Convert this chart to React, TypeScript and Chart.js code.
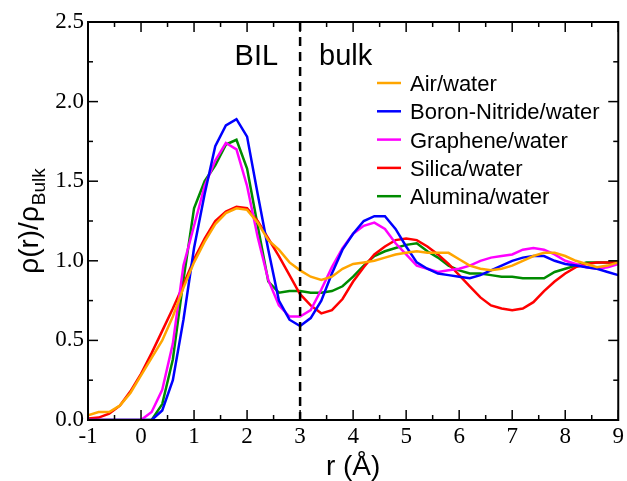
import React, { useEffect, useRef } from 'react';
import { Chart, registerables } from 'chart.js';

Chart.register(...registerables);

// r positions (Å)
const rValues = [
  -1, -0.8, -0.6, -0.4, -0.2, 0, 0.2, 0.4, 0.6, 0.8,
  1.0, 1.2, 1.4, 1.6, 1.8, 2.0, 2.2, 2.4, 2.6, 2.8,
  3.0, 3.2, 3.4, 3.6, 3.8, 4.0, 4.2, 4.4, 4.6, 4.8,
  5.0, 5.2, 5.4, 5.6, 5.8, 6.0, 6.2, 6.4, 6.6, 6.8,
  7.0, 7.2, 7.4, 7.6, 7.8, 8.0, 8.2, 8.4, 8.6, 8.8, 9.0,
];

const airWater = [
  0.03, 0.05, 0.05, 0.09, 0.17, 0.28, 0.39, 0.50, 0.65, 0.83,
  0.99, 1.12, 1.23, 1.30, 1.33, 1.32, 1.24, 1.13, 1.07, 0.99,
  0.94, 0.90, 0.88, 0.90, 0.95, 0.98, 0.99, 1.00, 1.02, 1.04,
  1.05, 1.06, 1.05, 1.05, 1.05, 1.01, 0.97, 0.95, 0.94, 0.95,
  0.97, 1.00, 1.03, 1.05, 1.05, 1.03, 1.00, 0.98, 0.96, 0.97, 0.99,
];

const boronNitrideWater = [
  0, 0, 0, 0, 0, 0, 0, 0.06, 0.25, 0.63,
  1.08, 1.42, 1.72, 1.85, 1.89, 1.78, 1.42, 1.07, 0.75, 0.63,
  0.59, 0.64, 0.75, 0.92, 1.07, 1.17, 1.25, 1.28, 1.28, 1.20,
  1.09, 0.99, 0.95, 0.92, 0.91, 0.90, 0.89, 0.91, 0.94, 0.97,
  1.00, 1.02, 1.03, 1.03, 1.00, 0.98, 0.97, 0.96, 0.95, 0.93, 0.91,
];

const grapheneWater = [
  0, 0, 0, 0, 0, 0, 0.05, 0.19, 0.48, 0.97,
  1.22, 1.47, 1.63, 1.74, 1.70, 1.47, 1.15, 0.88, 0.72, 0.65,
  0.65, 0.69, 0.82, 0.96, 1.08, 1.17, 1.22, 1.24, 1.20, 1.11,
  1.04, 0.97, 0.95, 0.93, 0.94, 0.95, 0.97, 1.00, 1.02, 1.03,
  1.04, 1.07, 1.08, 1.07, 1.04, 1.00, 0.98, 0.96, 0.95, 0.96, 0.98,
];

const silicaWater = [
  0.01, 0.015, 0.04, 0.09, 0.18, 0.29, 0.42, 0.56, 0.70, 0.85,
  1.01, 1.14, 1.25, 1.31, 1.34, 1.33, 1.25, 1.14, 1.03, 0.91,
  0.79, 0.72, 0.67, 0.69, 0.76, 0.87, 0.96, 1.04, 1.09, 1.13,
  1.14, 1.13, 1.09, 1.04, 0.98, 0.91, 0.84, 0.77, 0.72, 0.70,
  0.69, 0.70, 0.74, 0.81, 0.87, 0.92, 0.96, 0.98, 0.99, 0.99, 0.99,
];

const aluminaWater = [
  0, 0, 0, 0, 0, 0, 0, 0.10, 0.38, 0.88,
  1.33, 1.50, 1.60, 1.73, 1.76, 1.58, 1.22, 0.87, 0.80, 0.81,
  0.81, 0.80, 0.80, 0.81, 0.84, 0.90, 0.97, 1.03, 1.06, 1.08,
  1.10, 1.11, 1.06, 1.02, 0.97, 0.94, 0.92, 0.92, 0.91, 0.90,
  0.90, 0.89, 0.89, 0.89, 0.93, 0.95, 0.97, 0.99, 0.99, 0.99, 0.99,
];

const seriesLabels = ['Air/water', 'Boron-Nitride/water', 'Graphene/water', 'Silica/water', 'Alumina/water'];
const seriesValues = [airWater, boronNitrideWater, grapheneWater, silicaWater, aluminaWater];
const seriesColors = ['#FFA500', '#0000FF', '#FF00FF', '#FF0000', '#008B00'];

const boundaryR = 3;
const regionLabels = ['BIL', 'bulk'];
const xTitle = 'r (Å)';
const yTitleMain = 'ρ(r)/ρ';
const yTitleSub = 'Bulk';

const SANS = '"Liberation Sans", Arial, sans-serif';
const SERIF = '"Liberation Serif", "Times New Roman", serif';

const decorPlugin = {
  id: 'decor',
  afterDatasetsDraw(chart: any) {
    const { ctx, chartArea: a, scales } = chart;
    const x = scales.x;
    const y = scales.y;
    ctx.save();
    ctx.strokeStyle = '#000';
    ctx.fillStyle = '#000';

    // dashed boundary
    const xb = x.getPixelForValue(boundaryR);
    ctx.lineWidth = 2.5;
    ctx.setLineDash([9, 6]);
    ctx.beginPath();
    ctx.moveTo(xb, a.top);
    ctx.lineTo(xb, a.bottom);
    ctx.stroke();
    ctx.setLineDash([]);

    // frame
    ctx.lineWidth = 2;
    ctx.strokeRect(a.left, a.top, a.right - a.left, a.bottom - a.top);

    // inward ticks
    ctx.lineWidth = 1.5;
    const seg = (x1: number, y1: number, x2: number, y2: number) => {
      ctx.beginPath();
      ctx.moveTo(x1, y1);
      ctx.lineTo(x2, y2);
      ctx.stroke();
    };
    for (let i = 0; i <= 20; i++) {
      const v = x.min + i * 0.5;
      const len = i % 2 === 0 ? 10 : 5;
      const px = x.getPixelForValue(v);
      seg(px, a.bottom, px, a.bottom - len);
      seg(px, a.top, px, a.top + len);
    }
    for (let i = 0; i <= 10; i++) {
      const v = y.min + i * 0.25;
      const len = i % 2 === 0 ? 10 : 5;
      const py = y.getPixelForValue(v);
      seg(a.left, py, a.left + len, py);
      seg(a.right, py, a.right - len, py);
    }

    // region labels
    ctx.font = '29px ' + SANS;
    ctx.textBaseline = 'alphabetic';
    ctx.textAlign = 'right';
    ctx.fillText(regionLabels[0], xb - 22, 65);
    ctx.textAlign = 'left';
    ctx.fillText(regionLabels[1], xb + 19, 65);

    // legend
    ctx.font = '22px ' + SANS;
    chart.data.datasets.forEach((ds: any, i: number) => {
      const ly = 83 + i * 28.3;
      ctx.strokeStyle = ds.borderColor;
      ctx.lineWidth = 2.5;
      seg(377, ly, 401, ly);
      ctx.fillStyle = '#000';
      ctx.textAlign = 'left';
      ctx.fillText(ds.label, 410, ly + 8);
    });

    // x title
    ctx.fillStyle = '#000';
    ctx.font = '28px ' + SANS;
    ctx.textAlign = 'center';
    ctx.fillText(xTitle, (a.left + a.right) / 2, 475);

    // y title with subscript
    ctx.font = '28px ' + SANS;
    const wMain = ctx.measureText(yTitleMain).width;
    ctx.font = '19px ' + SANS;
    const wSub = ctx.measureText(yTitleSub).width;
    const total = wMain + 1 + wSub;
    const cy = (a.top + a.bottom) / 2;
    ctx.translate(38, cy + total / 2);
    ctx.rotate(-Math.PI / 2);
    ctx.textAlign = 'left';
    ctx.font = '28px ' + SANS;
    ctx.fillText(yTitleMain, 0, 0);
    ctx.font = '19px ' + SANS;
    ctx.fillText(yTitleSub, wMain + 1, 7);

    ctx.restore();
  },
};

export default function App() {
  const canvasRef = useRef<HTMLCanvasElement | null>(null);

  useEffect(() => {
    if (!canvasRef.current) return;
    const chart = new Chart(canvasRef.current, {
      type: 'line',
      data: {
        datasets: seriesLabels.map((label, i) => ({
          label,
          data: rValues.map((r, j) => ({ x: r, y: seriesValues[i][j] })),
          borderColor: seriesColors[i],
          backgroundColor: seriesColors[i],
          borderWidth: 2.5,
          pointRadius: 0,
          tension: 0,
          fill: false,
        })),
      },
      options: {
        responsive: false,
        animation: false,
        devicePixelRatio: 1,
        layout: { padding: { top: 22, right: 5, left: 0, bottom: 0 } },
        plugins: {
          legend: { display: false },
          tooltip: { enabled: false },
        },
        scales: {
          x: {
            type: 'linear',
            min: -1,
            max: 9,
            grid: { display: false, drawTicks: false, tickLength: 0 },
            border: { display: false },
            ticks: {
              stepSize: 1,
              autoSkip: false,
              maxRotation: 0,
              padding: 3,
              color: '#000',
              font: { family: SERIF, size: 23 },
            },
            afterFit: (s: any) => {
              s.height = 61;
            },
          },
          y: {
            type: 'linear',
            min: 0,
            max: 2.5,
            grid: { display: false, drawTicks: false, tickLength: 0 },
            border: { display: false },
            ticks: {
              stepSize: 0.5,
              autoSkip: false,
              padding: 4,
              color: '#000',
              font: { family: SERIF, size: 23 },
              callback: (v: any) => Number(v).toFixed(1),
            },
            afterFit: (s: any) => {
              s.width = 88;
            },
          },
        },
      },
      plugins: [decorPlugin],
    });
    return () => chart.destroy();
  }, []);

  return (
    <div style={{ position: 'fixed', left: 0, top: 0, width: 627, height: 481, background: '#fff' }}>
      <canvas ref={canvasRef} width={627} height={481} style={{ display: 'block' }} />
    </div>
  );
}
